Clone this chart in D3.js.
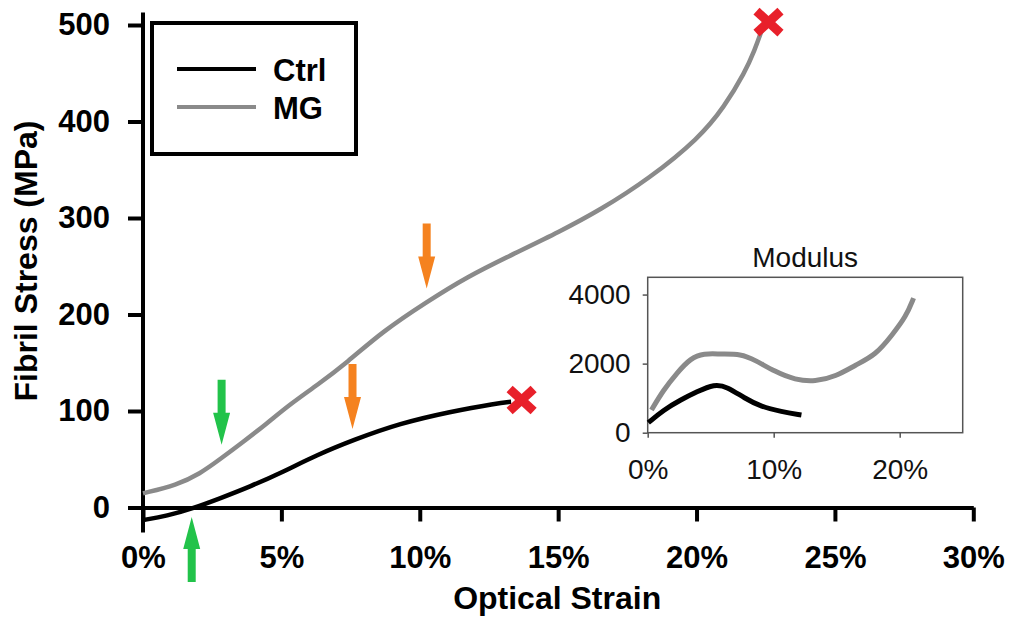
<!DOCTYPE html>
<html>
<head>
<meta charset="utf-8">
<script src="https://cdn.jsdelivr.net/npm/d3@7"></script>
<style>
  body { margin: 0; background: #fff; }
  svg { display: block; font-family: "Liberation Sans", Arial, sans-serif; }
</style>
</head>
<body>
<script>
// Stress-strain curves (strain as fraction, stress in MPa)
var ctrlStrain = [0, 0.0086, 0.0182, 0.0278, 0.0387, 0.0507, 0.0628, 0.076, 0.0928, 0.111, 0.1278, 0.133];
var ctrlStress = [-13, -8.8, -0.8, 9.5, 21.6, 37.1, 54.4, 70, 87.2, 99.3, 108, 109.5];
var mgStrain = [0, 0.0122, 0.0206, 0.0278, 0.0362, 0.0447, 0.0531, 0.063, 0.0736, 0.0868, 0.1025, 0.117, 0.134, 0.1506, 0.165, 0.183, 0.201, 0.21, 0.2175, 0.221, 0.2235];
var mgStress = [14.7, 23.3, 35, 50, 68, 87, 107, 127, 150, 183, 213, 239, 263, 286, 308, 341, 383, 415, 451, 474, 494];

// Failure points (red crosses)
var breakStrain = [0.1368, 0.226];
var breakStress = [111.4, 503];

// Arrow annotations: strain, stress at the tip, pointing direction, colour group
var arrowStrain = [0.0284, 0.0176, 0.1025, 0.0757];
var arrowTipStress = [65, -9.8, 227, 81.3];
var arrowDir = ['down', 'up', 'down', 'down'];
var arrowKind = ['green', 'green', 'orange', 'orange'];

// Inset: tangent modulus (MPa) against strain
var modCtrlStrain = [0.0005, 0.0125, 0.026, 0.039, 0.053, 0.063, 0.077, 0.09, 0.106, 0.122];
var modCtrl = [290, 658, 948, 1188, 1411, 1333, 997, 754, 609, 513];
var modMgStrain = [0.003, 0.0125, 0.023, 0.034, 0.0446, 0.058, 0.074, 0.085, 0.101, 0.117, 0.133, 0.149, 0.165, 0.181, 0.194, 0.205, 0.211];
var modMg = [658, 1237, 1722, 2157, 2301, 2272, 2280, 2107, 1768, 1527, 1478, 1623, 1962, 2252, 2832, 3362, 3896];

var xTicks = [0, 0.05, 0.10, 0.15, 0.20, 0.25, 0.30];
var yTicks = [0, 100, 200, 300, 400, 500];
var insetXTicks = [0, 0.10, 0.20];
var insetYTicks = [0, 2000, 4000];
var legendNames = ['Ctrl', 'MG'];

var app = {
  init: function(){
    app.render();
  },
  render: function(){
    var width = 1013;
    var height = 618;
    var black = '#000';
    var grey = '#8a8a8a';
    var colors = { green: '#22c34a', orange: '#f5821f' };

    var svg = d3.select('body').append('svg')
      .attr('width', width)
      .attr('height', height);

    // Main scales
    var x = d3.scaleLinear().domain([0, 0.30]).range([143, 973.3]);
    var y = d3.scaleLinear().domain([0, 500]).range([507.5, 25]);

    var zip = function(xs, ys) {
      return xs.map(function(v, i) { return [v, ys[i]]; });
    };

    // Y axis
    var yAxis = svg.append('g')
      .attr('transform', 'translate(' + x(0) + ',0)')
      .call(d3.axisLeft(y).tickValues(yTicks).tickSize(15).tickSizeOuter(0).tickPadding(18));
    yAxis.select('.domain').remove();
    yAxis.append('line')
      .attr('x1', 0).attr('x2', 0)
      .attr('y1', y(-26)).attr('y2', y(513))
      .attr('stroke', black).attr('stroke-width', 4);
    yAxis.selectAll('.tick line').attr('stroke-width', 4);
    yAxis.selectAll('text')
      .attr('fill', black)
      .style('font-size', '31px')
      .style('font-weight', 'bold');

    // X axis
    var xAxis = svg.append('g')
      .attr('transform', 'translate(0,' + y(0) + ')')
      .call(d3.axisBottom(x).tickValues(xTicks).tickFormat(d3.format('.0%'))
        .tickSize(14).tickSizeOuter(0).tickPadding(24));
    xAxis.select('.domain').attr('stroke-width', 4);
    xAxis.selectAll('.tick line').attr('stroke-width', 4);
    xAxis.selectAll('text')
      .attr('fill', black)
      .style('font-size', '31px')
      .style('font-weight', 'bold');

    // Axis titles
    svg.append('text')
      .attr('x', (x(0) + x(0.30)) / 2 - 1)
      .attr('y', 609)
      .attr('text-anchor', 'middle')
      .style('font-size', '32px')
      .style('font-weight', 'bold')
      .text('Optical Strain');

    svg.append('text')
      .attr('transform', 'translate(37,' + 261 + ') rotate(-90)')
      .attr('text-anchor', 'middle')
      .style('font-size', '32px')
      .style('font-weight', 'bold')
      .text('Fibril Stress (MPa)');

    // Curves
    var line = d3.line()
      .x(function(d) { return x(d[0]); })
      .y(function(d) { return y(d[1]); })
      .curve(d3.curveBasis);

    svg.append('path')
      .datum(zip(mgStrain, mgStress))
      .attr('d', line)
      .attr('fill', 'none')
      .attr('stroke', grey)
      .attr('stroke-width', 4.5);

    svg.append('path')
      .datum(zip(ctrlStrain, ctrlStress))
      .attr('d', line)
      .attr('fill', 'none')
      .attr('stroke', black)
      .attr('stroke-width', 4.5);

    // Failure crosses
    var cross = svg.selectAll('g.cross').data(zip(breakStrain, breakStress))
      .enter().append('g')
      .attr('class', 'cross')
      .attr('transform', function(d) { return 'translate(' + x(d[0]) + ',' + y(d[1]) + ')'; });
    cross.append('line').attr('x1', -12).attr('y1', -11).attr('x2', 12).attr('y2', 11);
    cross.append('line').attr('x1', -12).attr('y1', 11).attr('x2', 12).attr('y2', -11);
    cross.selectAll('line')
      .attr('stroke', '#e8202a')
      .attr('stroke-width', 9);

    // Arrows: tip at origin, pointing down
    var arrowPath = 'M0,0 L-8.5,-32 L-4,-32 L-4,-65 L4,-65 L4,-32 L8.5,-32 Z';
    svg.selectAll('path.arrow')
      .data(arrowStrain.map(function(s, i) {
        return { strain: s, stress: arrowTipStress[i], dir: arrowDir[i], kind: arrowKind[i] };
      }))
      .enter().append('path')
      .attr('class', 'arrow')
      .attr('d', arrowPath)
      .attr('fill', function(d) { return colors[d.kind]; })
      .attr('transform', function(d) {
        return 'translate(' + x(d.strain) + ',' + y(d.stress) + ')' + (d.dir === 'up' ? ' rotate(180)' : '');
      });

    // Legend
    var legend = svg.append('g');
    legend.append('rect')
      .attr('x', 152).attr('y', 23)
      .attr('width', 204).attr('height', 131)
      .attr('fill', '#fff')
      .attr('stroke', black)
      .attr('stroke-width', 4);
    legendNames.forEach(function(name, i) {
      var ly = 69 + i * 38;
      legend.append('line')
        .attr('x1', 177).attr('x2', 256)
        .attr('y1', ly).attr('y2', ly)
        .attr('stroke', i === 0 ? black : grey)
        .attr('stroke-width', 4);
      legend.append('text')
        .attr('x', 273).attr('y', ly + 12)
        .style('font-size', '31px')
        .style('font-weight', 'bold')
        .text(name);
    });

    // Inset chart
    var ix = d3.scaleLinear().domain([0, 0.25]).range([647.7, 962.7]);
    var iy = d3.scaleLinear().domain([0, 4500]).range([432.7, 277.3]);
    var inset = svg.append('g');

    inset.append('rect')
      .attr('x', ix(0)).attr('y', iy(4500))
      .attr('width', ix(0.25) - ix(0))
      .attr('height', iy(0) - iy(4500))
      .attr('fill', '#fff')
      .attr('stroke', '#555')
      .attr('stroke-width', 1.5);

    var iyAxis = inset.append('g')
      .attr('transform', 'translate(' + ix(0) + ',0)')
      .call(d3.axisLeft(iy).tickValues(insetYTicks).tickFormat(d3.format('d'))
        .tickSize(5).tickSizeOuter(0).tickPadding(12));
    var ixAxis = inset.append('g')
      .attr('transform', 'translate(0,' + iy(0) + ')')
      .call(d3.axisBottom(ix).tickValues(insetXTicks).tickFormat(d3.format('.0%'))
        .tickSize(5).tickSizeOuter(0).tickPadding(21));
    [iyAxis, ixAxis].forEach(function(a) {
      a.select('.domain').remove();
      a.selectAll('.tick line').attr('stroke', '#555').attr('stroke-width', 1.5);
      a.selectAll('text')
        .attr('fill', '#111')
        .style('font-size', '28px');
    });

    inset.append('text')
      .attr('x', (ix(0) + ix(0.25)) / 2)
      .attr('y', 267)
      .attr('text-anchor', 'middle')
      .attr('fill', '#111')
      .style('font-size', '28px')
      .text('Modulus');

    var iline = d3.line()
      .x(function(d) { return ix(d[0]); })
      .y(function(d) { return iy(d[1]); })
      .curve(d3.curveBasis);

    inset.append('path')
      .datum(zip(modMgStrain, modMg))
      .attr('d', iline)
      .attr('fill', 'none')
      .attr('stroke', grey)
      .attr('stroke-width', 5);

    inset.append('path')
      .datum(zip(modCtrlStrain, modCtrl))
      .attr('d', iline)
      .attr('fill', 'none')
      .attr('stroke', black)
      .attr('stroke-width', 5);
  }
};

app.init();
</script>
</body>
</html>
